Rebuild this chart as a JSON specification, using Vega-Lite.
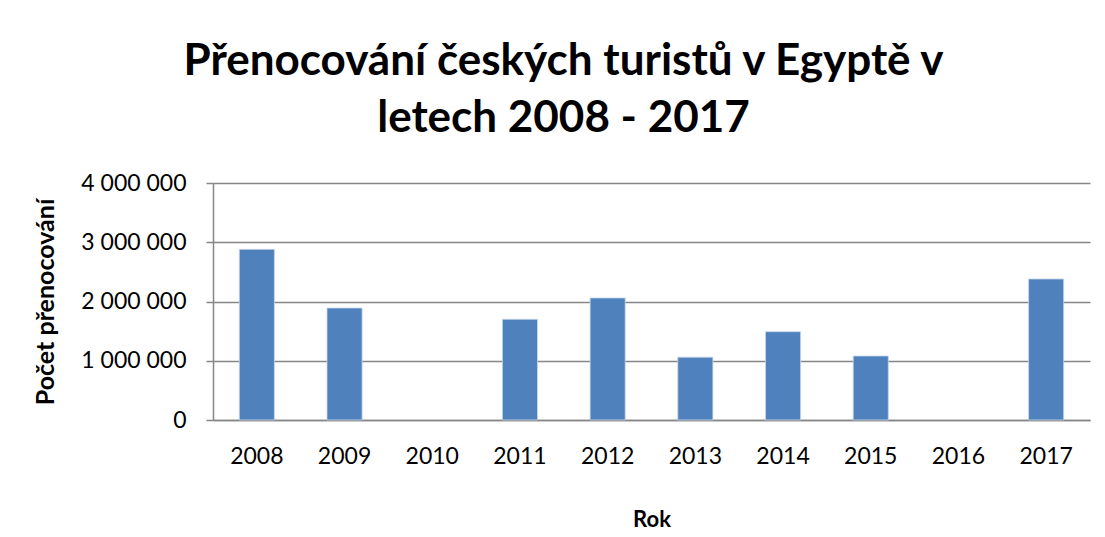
{
  "$schema": "https://vega.github.io/schema/vega-lite/v6.json",
  "autosize": "none",
  "padding": {"left": 213, "top": 183, "right": 15, "bottom": 117},
  "width": 877,
  "height": 237,
  "background": "white",
  "config": {
    "locale": {"number": {"decimal": ",", "thousands": " ", "grouping": [3], "currency": ["", " Kč"]}},
    "view": {"stroke": null},
    "font": "Lato"
  },
  "title": {
    "text": ["Přenocování českých turistů v Egyptě v", "letech 2008 - 2017"],
    "font": "Lato",
    "fontSize": 44,
    "fontWeight": "bold",
    "color": "black",
    "lineHeight": 57,
    "anchor": "middle",
    "frame": "group",
    "baseline": "alphabetic",
    "dx": -88,
    "offset": -4
  },
  "data": {
    "values": [
      {"rok": "2008", "pocet": 2880000},
      {"rok": "2009", "pocet": 1890000},
      {"rok": "2010", "pocet": null},
      {"rok": "2011", "pocet": 1700000},
      {"rok": "2012", "pocet": 2060000},
      {"rok": "2013", "pocet": 1060000},
      {"rok": "2014", "pocet": 1490000},
      {"rok": "2015", "pocet": 1080000},
      {"rok": "2016", "pocet": null},
      {"rok": "2017", "pocet": 2380000}
    ]
  },
  "mark": {"type": "bar", "color": "#4F81BD", "stroke": "#C6D5EA", "strokeWidth": 0.8},
  "encoding": {
    "x": {
      "field": "rok",
      "type": "nominal",
      "sort": null,
      "scale": {"domain": ["2008","2009","2010","2011","2012","2013","2014","2015","2016","2017"], "paddingInner": 0.6, "paddingOuter": 0.3},
      "axis": {
        "title": "Rok",
        "titleFont": "Lato",
        "titleFontSize": 22,
        "titleFontWeight": "bold",
        "titleColor": "black",
        "titlePadding": 41,
        "labelAngle": 0,
        "labelFont": "Lato",
        "labelFontSize": 23,
        "labelColor": "black",
        "labelPadding": 25,
        "ticks": false,
        "domainColor": "#868686",
        "domainWidth": 1.5
      }
    },
    "y": {
      "field": "pocet",
      "type": "quantitative",
      "scale": {"domain": [0, 4000000], "nice": false},
      "axis": {
        "title": "Počet přenocování",
        "titleFont": "Lato",
        "titleFontSize": 25,
        "titleFontWeight": "bold",
        "titleColor": "black",
        "titlePadding": 22,
        "values": [0, 1000000, 2000000, 3000000, 4000000],
        "format": ",d",
        "labelFont": "Lato",
        "labelFontSize": 23,
        "labelColor": "black",
        "labelPadding": 20,
        "tickSize": 7,
        "tickColor": "#868686",
        "tickWidth": 1.5,
        "domainColor": "#868686",
        "domainWidth": 1.5,
        "grid": true,
        "gridColor": "#868686",
        "gridWidth": 1.5
      }
    }
  }
}
